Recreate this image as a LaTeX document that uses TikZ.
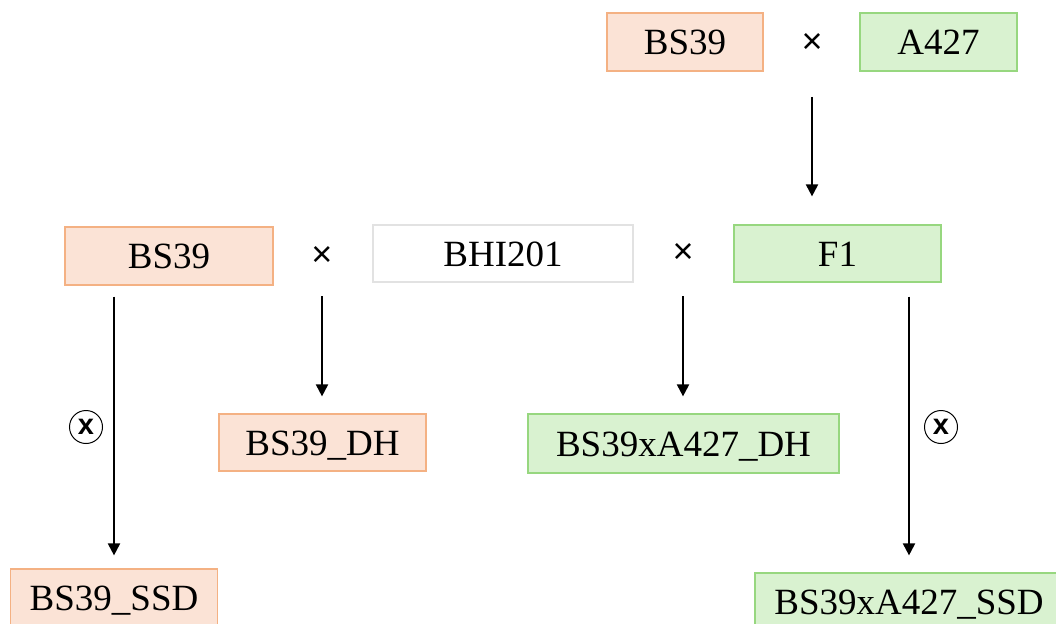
\documentclass[tikz,border=0pt]{standalone}
\usepackage{fontspec}
\setmainfont{Liberation Serif}
\newfontfamily\symfont{Liberation Sans}
\usetikzlibrary{arrows.meta}
\definecolor{orfill}{HTML}{FBE3D6}
\definecolor{ordraw}{HTML}{F4B183}
\definecolor{grfill}{HTML}{D9F2D0}
\definecolor{grdraw}{HTML}{97D77F}
\definecolor{gydraw}{HTML}{E2E2E2}
\tikzset{
  box/.style={draw, line width=1.2pt, inner sep=0pt, anchor=center,
    font=\fontsize{37}{40}\selectfont, text height=25pt, text depth=0pt},
  orbox/.style={box, fill=orfill, draw=ordraw},
  grbox/.style={box, fill=grfill, draw=grdraw},
  whbox/.style={box, fill=white, draw=gydraw},
  cross/.style={font=\symfont\fontsize{36}{36}\selectfont, inner sep=0pt},
  selfing/.style={circle, draw, line width=1pt, minimum size=33pt, inner sep=0pt,
    font=\symfont\bfseries\fontsize{29}{29}\selectfont},
  arr/.style={line width=2pt, -{Triangle[length=12pt,width=12pt]}}
}
\begin{document}
\begin{tikzpicture}[x=1pt,y=-1pt]
\useasboundingbox (0,0) rectangle (1056,623);
\clip (0,0) rectangle (1056,623);
% top row
\node[orbox, minimum width=156pt, minimum height=58pt] (bs39a) at (685,42) {BS39};
\node[cross] (x1) at (812,43) {×};
\node[grbox, minimum width=157pt, minimum height=58pt] (a427) at (938.5,42) {A427};
% middle row
\node[orbox, minimum width=208pt, minimum height=58pt] (bs39b) at (169,256) {BS39};
\node[cross] (x2) at (322,256) {×};
\node[whbox, minimum width=260pt, minimum height=57pt] (bhi) at (503,253.5) {BHI201};
\node[cross] (x3) at (683,253) {×};
\node[grbox, minimum width=207pt, minimum height=57pt] (f1) at (837.5,253.5) {F1};
% lower row
\node[orbox, minimum width=207pt, minimum height=57pt] (dh1) at (322.5,442.5) {BS39\_DH};
\node[grbox, minimum width=311pt, minimum height=59pt] (dh2) at (683.5,443.5) {BS39xA427\_DH};
\node[orbox, minimum width=207pt, minimum height=58pt] (ssd1) at (114,598) {BS39\_SSD};
\node[grbox, minimum width=308pt, minimum height=58pt] (ssd2) at (909,602) {BS39xA427\_SSD};
% selfing marks
\node[selfing] (s1) at (86,427) {x};
\node[selfing] (s2) at (941,427) {x};
% arrows
\draw[arr, shorten <=54pt, shorten >=28pt] (x1.center) -- (x1.center |- f1.north);
\draw[arr, shorten <=11pt, shorten >=13pt] (bs39b.south -| ssd1) -- (ssd1.north);
\draw[arr, shorten <=40pt, shorten >=17pt] (x2.center) -- (x2.center |- dh1.north);
\draw[arr, shorten <=43pt, shorten >=17pt] (x3.center) -- (x3.center |- dh2.north);
\draw[arr, shorten <=14pt, shorten >=17pt] (f1.south -| ssd2) -- (ssd2.north);
\end{tikzpicture}
\end{document}
